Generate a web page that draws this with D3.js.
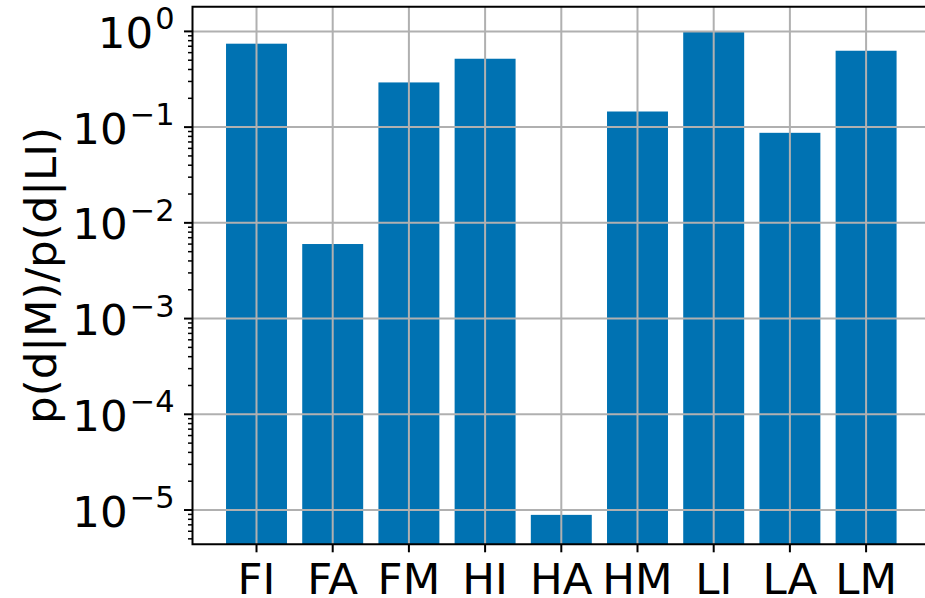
<!DOCTYPE html>
<html>
<head>
<meta charset="utf-8">
<script src="https://cdn.jsdelivr.net/npm/d3@7"></script>
<style>
body{margin:0;background:#fff;}
text{font-family:"DejaVu Sans",sans-serif;fill:#000;}
</style>
</head>
<body>
<div id="chart"></div>
<script>
// data
var categories=["FI","FA","FM","HI","HA","HM","LI","LA","LM"];
var ratios=[0.744,0.00601,0.293,0.518,0.0000089,0.1456,1.0,0.0872,0.628];
var yTickExps=[0,-1,-2,-3,-4,-5];
var yLabel="p(d|M)/p(d|LI)";

var width=925, height=598;
var plotLeft=192.5, plotRight=930.1, plotTop=6.7, plotBottom=544.3;
var fs=43.5;

var svg=d3.select("#chart").append("svg")
  .attr("width",width)
  .attr("height",height);

var xScale=d3.scaleBand()
  .domain(categories)
  .range([plotLeft,plotRight])
  .paddingInner(0.2)
  .paddingOuter(0.44);

var yScale=d3.scaleLog()
  .domain([Math.pow(10,-5.358),Math.pow(10,0.258)])
  .range([plotBottom,plotTop]);

// bars
svg.append("g").selectAll("rect")
  .data(ratios)
  .enter()
  .append("rect")
  .attr("x",function(d,i){return xScale(categories[i]);})
  .attr("y",function(d){return yScale(d);})
  .attr("width",xScale.bandwidth())
  .attr("height",function(d){return plotBottom-yScale(d);})
  .attr("fill","#0072b2");

// grid (drawn over the bars)
var grid=svg.append("g").attr("stroke","#b0b0b0").attr("stroke-width",2);
categories.forEach(function(c){
  var x=xScale(c)+xScale.bandwidth()/2;
  grid.append("line").attr("x1",x).attr("x2",x).attr("y1",plotTop).attr("y2",plotBottom);
});
yTickExps.forEach(function(e){
  var y=yScale(Math.pow(10,e));
  grid.append("line").attr("x1",plotLeft).attr("x2",plotRight).attr("y1",y).attr("y2",y);
});

// minor ticks on y
var minor=[];
for(var e=-6;e<=0;e++){
  for(var m=2;m<=9;m++){
    var v=m*Math.pow(10,e);
    if(yScale(v)<=plotBottom && yScale(v)>=plotTop) minor.push(v);
  }
}
svg.append("g").selectAll("line")
  .data(minor)
  .enter()
  .append("line")
  .attr("x1",plotLeft-4.5)
  .attr("x2",plotLeft)
  .attr("y1",function(d){return yScale(d);})
  .attr("y2",function(d){return yScale(d);})
  .attr("stroke","#000")
  .attr("stroke-width",1.5);

// major y ticks + labels
var yt=svg.append("g");
yTickExps.forEach(function(e){
  var y=yScale(Math.pow(10,e));
  yt.append("line").attr("x1",plotLeft-8.5).attr("x2",plotLeft).attr("y1",y).attr("y2",y)
    .attr("stroke","#000").attr("stroke-width",2);
  var t=yt.append("text")
    .attr("x",plotLeft-18)
    .attr("y",y+16.5)
    .attr("text-anchor","end")
    .style("font-size",fs+"px");
  t.append("tspan").text("10");
  t.append("tspan")
    .attr("dy",-18.5)
    .attr("dx",2)
    .style("font-size",(fs*0.7)+"px")
    .text(e<0 ? "\u2212"+(-e) : ""+e);
});

// x ticks + labels
var xt=svg.append("g");
categories.forEach(function(c){
  var x=xScale(c)+xScale.bandwidth()/2;
  xt.append("line").attr("x1",x).attr("x2",x).attr("y1",plotBottom).attr("y2",plotBottom+8)
    .attr("stroke","#000").attr("stroke-width",2);
  xt.append("text")
    .attr("x",x)
    .attr("y",594)
    .attr("text-anchor","middle")
    .style("font-size",fs+"px")
    .text(c);
});

// spines
svg.append("path")
  .attr("d","M"+plotRight+","+plotTop+"H"+plotLeft+"V"+plotBottom+"H"+plotRight+"V"+plotTop)
  .attr("fill","none")
  .attr("stroke","#000")
  .attr("stroke-width",2);

// y label
svg.append("text")
  .attr("transform","translate(56,"+((plotTop+plotBottom)/2)+") rotate(-90)")
  .attr("text-anchor","middle")
  .style("font-size",fs+"px")
  .text(yLabel);
</script>
</body>
</html>
